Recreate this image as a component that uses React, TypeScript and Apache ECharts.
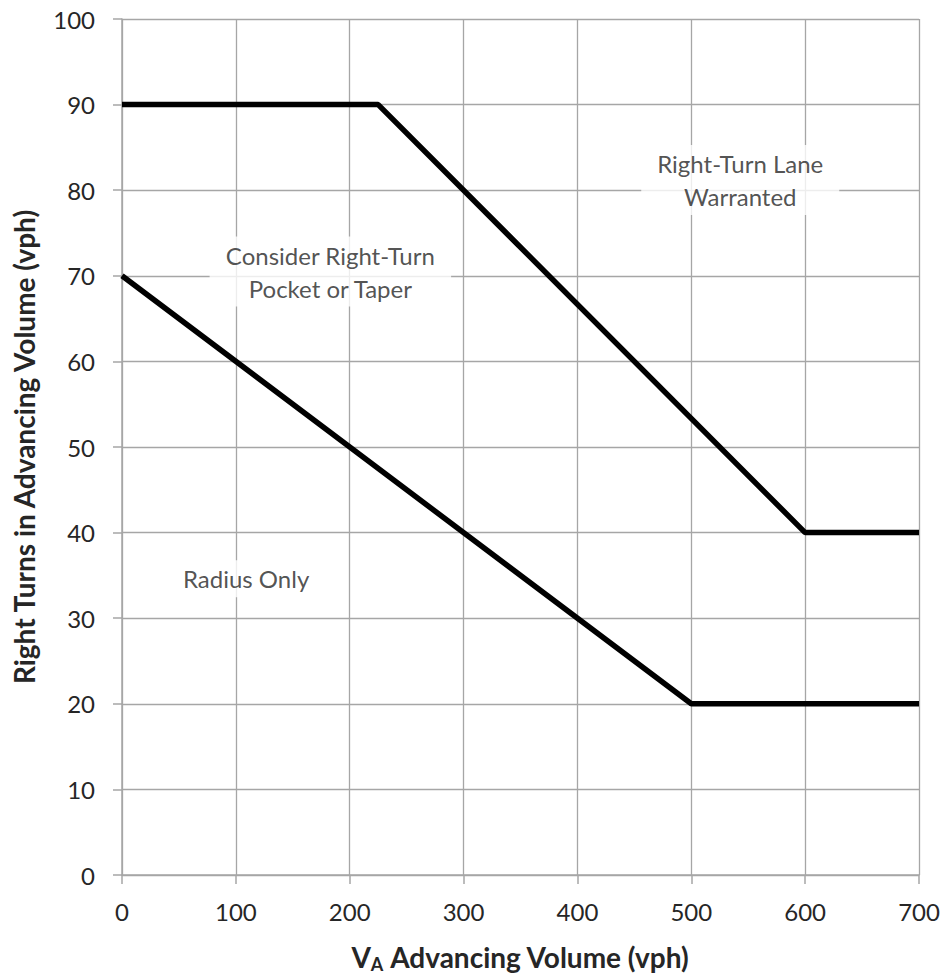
import React, { useEffect, useRef } from "react";
import * as echarts from "echarts";

const upperBoundary: [number, number][] = [
  [0, 90],
  [225, 90],
  [600, 40],
  [700, 40],
];
const lowerBoundary: [number, number][] = [
  [0, 70],
  [500, 20],
  [700, 20],
];
const regionLabels: { x: number; y: number; text: string }[] = [
  { x: 543, y: 81.2, text: "Right-Turn Lane\nWarranted" },
  { x: 183, y: 70.5, text: "Consider Right-Turn\nPocket or Taper" },
  { x: 109, y: 34.6, text: "Radius Only" },
];

const FONT = "Lato";
const TEXT = "#262626";
const GRID = "#a6a6a6";

export default function App() {
  const ref = useRef<HTMLDivElement>(null);
  useEffect(() => {
    document.body.style.margin = "0";
    if (!ref.current) return;
    const chart = echarts.init(ref.current, undefined, { renderer: "svg" });
    chart.setOption({
      animation: false,
      backgroundColor: "#ffffff",
      grid: { left: 122, top: 19, right: 27, bottom: 98, containLabel: false },
      xAxis: {
        type: "value",
        min: 0,
        max: 700,
        interval: 100,
        name: "{v|V}{sub|A}{t| Advancing Volume (vph)}",
        nameLocation: "middle",
        nameGap: 66,
        nameTextStyle: {
          rich: {
            v: { fontFamily: FONT, fontWeight: "bold", fontSize: 28, color: TEXT },
            sub: { fontFamily: FONT, fontWeight: "bold", fontSize: 18, color: TEXT, padding: [14, 0, 0, 0] },
            t: { fontFamily: FONT, fontWeight: "bold", fontSize: 28, color: TEXT },
          },
        },
        axisLine: { show: true, lineStyle: { color: GRID, width: 1.5 } },
        axisTick: { show: true, inside: false, length: 9, lineStyle: { color: GRID, width: 1.5 } },
        axisLabel: { fontFamily: FONT, fontSize: 24, color: TEXT, margin: 24 },
        splitLine: { show: true, lineStyle: { color: GRID, width: 1.3 } },
      },
      yAxis: {
        type: "value",
        min: 0,
        max: 100,
        interval: 10,
        name: "Right Turns in Advancing Volume (vph)",
        nameLocation: "middle",
        nameGap: 84,
        nameTextStyle: { fontFamily: FONT, fontWeight: "bold", fontSize: 28, color: TEXT },
        axisLine: { show: true, lineStyle: { color: GRID, width: 1.5 } },
        axisTick: { show: true, inside: false, length: 9, lineStyle: { color: GRID, width: 1.5 } },
        axisLabel: { fontFamily: FONT, fontSize: 24, color: TEXT, margin: 27 },
        splitLine: { show: true, lineStyle: { color: GRID, width: 1.3 } },
      },
      series: [
        {
          type: "line",
          data: upperBoundary,
          symbol: "none",
          lineStyle: { color: "#000", width: 5.5 },
          z: 3,
        },
        {
          type: "line",
          data: lowerBoundary,
          symbol: "none",
          lineStyle: { color: "#000", width: 5.5 },
          z: 3,
        },
        {
          type: "scatter",
          symbolSize: 0,
          data: regionLabels.map((l) => ({ value: [l.x, l.y], name: l.text })),
          z: 4,
          label: {
            show: true,
            position: "inside",
            formatter: (p: any) => p.name,
            fontFamily: FONT,
            fontSize: 24,
            lineHeight: 33,
            color: TEXT,
            backgroundColor: "#ffffff",
            padding: [2, 16, 2, 16],
            align: "center",
            verticalAlign: "middle",
          },
        },
      ],
    });
    return () => chart.dispose();
  }, []);
  return <div ref={ref} style={{ width: 946, height: 978 }} />;
}
